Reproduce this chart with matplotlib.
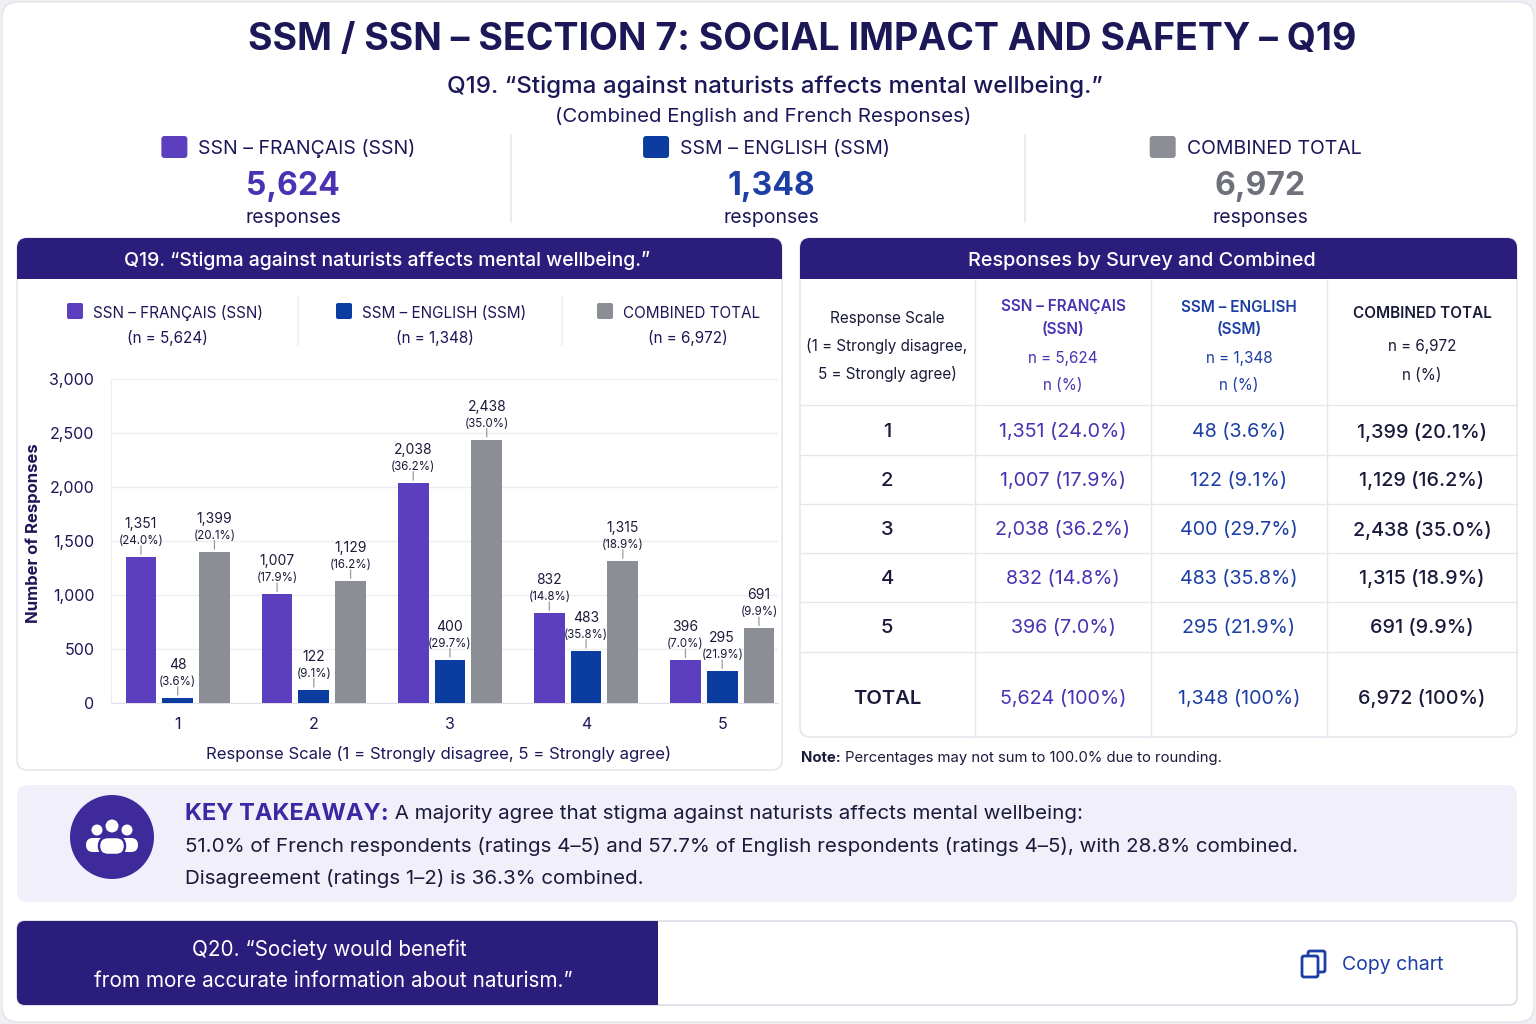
import matplotlib
matplotlib.use("Agg")
import matplotlib.pyplot as plt
from matplotlib.patches import FancyBboxPatch, Rectangle, Circle

plt.rcParams['font.family'] = ['Inter', 'DejaVu Sans']

# ---- data ----
scale = [1, 2, 3, 4, 5]
ssn_counts = [1351, 1007, 2038, 832, 396]
ssn_pct = [24.0, 17.9, 36.2, 14.8, 7.0]
ssm_counts = [48, 122, 400, 483, 295]
ssm_pct = [3.6, 9.1, 29.7, 35.8, 21.9]
comb_counts = [1399, 1129, 2438, 1315, 691]
comb_pct = [20.1, 16.2, 35.0, 18.9, 9.9]
totals = [5624, 1348, 6972]
series_names = ["SSN – FRANÇAIS (SSN)", "SSM – ENGLISH (SSM)", "COMBINED TOTAL"]
yticks = [0, 500, 1000, 1500, 2000, 2500, 3000]

# ---- colours ----
navy = '#1c1757'
indigo = '#2a1d7c'
purple = '#5b3fbe'
purple_txt = '#4a32b3'
blue = '#0a3d9f'
blue_txt = '#1d3fa5'
gray = '#8b8e95'
gray_txt = '#6e7179'
dark = '#1a1a3a'
line_c = '#e6e6ee'

fig = plt.figure(figsize=(15.36, 10.24), dpi=100, facecolor='#eef0f4')
bg = fig.add_axes([0, 0, 1, 1])
bg.set_xlim(0, 1536)
bg.set_ylim(1024, 0)
bg.axis('off')


def rbox(x0, y0, x1, y1, r, fc, ec='none', lw=1, z=1):
    p = FancyBboxPatch((x0, y0), x1 - x0, y1 - y0,
                       boxstyle=f"round,pad=0,rounding_size={r}",
                       fc=fc, ec=ec, lw=lw, zorder=z)
    bg.add_patch(p)
    return p


def txt(x, y, s, size, color=dark, weight='normal', ha='center', **kw):
    # small downward nudge so the visual centre matches the layout
    return bg.text(x, y + 2, s, fontsize=size, color=color, fontweight=weight,
                   ha=ha, va='center', **kw)


renderer = fig.canvas.get_renderer()


def run(x, y, parts):
    for s, kw in parts:
        t = txt(x, y, s, ha='left', **kw)
        x += t.get_window_extent(renderer).width


# outer card
rbox(2, 2, 1534, 1022, 16, 'white', ec='#e2e4ea', lw=1)

# title block
txt(802, 38, "SSM / SSN – SECTION 7: SOCIAL IMPACT AND SAFETY – Q19", 27, navy, 'bold')
txt(775, 85, "Q19. “Stigma against naturists affects mental wellbeing.”", 17.4, navy, 'medium')
txt(763, 115, "(Combined English and French Responses)", 14.7, navy)

# stat columns
stat_x = [290, 768, 1257]
stat_cols = [purple, blue, gray]
stat_txt = [purple_txt, blue_txt, gray_txt]
for cx, name, tot, c, tc in zip(stat_x, series_names, totals, stat_cols, stat_txt):
    t = txt(cx + 17, 147, name, 14, navy)
    w = t.get_window_extent(renderer).width
    rbox(cx + 17 - w / 2 - 37, 136, cx + 17 - w / 2 - 11, 158, 3, c, z=2)
    txt(cx + 3, 184, f"{tot:,}", 23, tc, 'bold')
    txt(cx + 3, 216, "responses", 14, navy)
for dx in [511, 1025]:
    bg.plot([dx, dx], [135, 222], color=line_c, lw=1.2)

# left panel
rbox(17, 238, 782, 770, 10, 'white', ec=line_c, lw=1.2)
rbox(17, 238, 782, 279, 10, indigo, z=2)
bg.add_patch(Rectangle((17, 262), 765, 17, fc=indigo, ec='none', zorder=2))
txt(387, 259, "Q19. “Stigma against naturists affects mental wellbeing.”", 14, 'white', 'medium', zorder=3)

leg_sq = [67, 336, 597]
leg_n = [167, 435, 688]
for sx, nx, name, tot, c in zip(leg_sq, leg_n, series_names, totals, stat_cols):
    rbox(sx, 303, sx + 16, 319, 2, c, z=2)
    txt(sx + 26, 311, name, 11, navy, ha='left')
    txt(nx, 336, f"(n = {tot:,})", 11, navy)
for dx in [298, 562]:
    bg.plot([dx, dx], [297, 345], color='#f0f0f4', lw=1.2)

# chart axes
ax = fig.add_axes([111 / 1536, 1 - 703 / 1024, (778 - 111) / 1536, 324 / 1024])
ax.set_facecolor('none')
bw = 0.226
off = 0.27
ax.set_xlim(1 - 0.49, 5 + 0.41)
ax.set_ylim(0, 3000)
groups = [(ssn_counts, ssn_pct, purple, -off), (ssm_counts, ssm_pct, blue, 0),
          (comb_counts, comb_pct, gray, off)]
for counts, pcts, c, o in groups:
    xs = [s + o for s in scale]
    ax.bar(xs, counts, width=bw, color=c, zorder=3)
    for x, v, p in zip(xs, counts, pcts):
        ax.annotate('', xy=(x, v), xytext=(0, 14), textcoords='offset pixels',
                    arrowprops=dict(arrowstyle='-', color='#9a9aa5', lw=0.9))
        ax.annotate(f"({p:.1f}%)", xy=(x, v), xytext=(0, 16), textcoords='offset pixels',
                    ha='center', va='center', fontsize=8.3, color=dark)
        ax.annotate(f"{v:,}", xy=(x, v), xytext=(0, 33), textcoords='offset pixels',
                    ha='center', va='center', fontsize=10, color=dark)
ax.set_yticks(yticks)
ax.set_yticklabels([f"{v:,}" for v in yticks], fontsize=11.5, color=navy)
ax.set_xticks(scale)
ax.set_xticklabels([str(s) for s in scale], fontsize=11.5, color=navy)
ax.tick_params(length=0, pad=12, axis='y')
ax.tick_params(length=0, pad=10, axis='x')
ax.grid(axis='y', color='#ededf2', lw=1, zorder=0)
for s in ['top', 'right']:
    ax.spines[s].set_visible(False)
ax.spines['left'].set_color('#ededf2')
ax.spines['bottom'].set_color('#e0e0e8')
txt(33, 531, "Number of Responses", 12, navy, 'bold', rotation=90)
txt(439, 752, "Response Scale (1 = Strongly disagree, 5 = Strongly agree)", 12, navy)

# right panel: table
rbox(800, 238, 1517, 737, 10, 'white', ec=line_c, lw=1.2)
rbox(800, 238, 1517, 279, 10, indigo, z=2)
bg.add_patch(Rectangle((800, 262), 717, 17, fc=indigo, ec='none', zorder=2))
txt(1142, 259, "Responses by Survey and Combined", 14.3, 'white', 'medium', zorder=3)

for hy in [405, 455, 504, 553, 602, 652]:
    bg.plot([800, 1517], [hy, hy], color=line_c, lw=1)
for vx in [975, 1151, 1327]:
    bg.plot([vx, vx], [280, 737], color=line_c, lw=1)

col_x = [887, 1063, 1239, 1422]
txt(col_x[0], 316, "Response Scale", 11, dark)
txt(col_x[0], 344, "(1 = Strongly disagree,", 11, dark)
txt(col_x[0], 372, "5 = Strongly agree)", 11, dark)
txt(col_x[1], 305, "SSN – FRANÇAIS", 11, purple_txt, 'semibold')
txt(col_x[1], 327, "(SSN)", 11, purple_txt, 'semibold')
txt(col_x[1], 356, f"n = {totals[0]:,}", 11, purple_txt)
txt(col_x[1], 383, "n (%)", 11, purple_txt)
txt(col_x[2], 305, "SSM – ENGLISH", 11, blue_txt, 'semibold')
txt(col_x[2], 327, "(SSM)", 11, blue_txt, 'semibold')
txt(col_x[2], 356, f"n = {totals[1]:,}", 11, blue_txt)
txt(col_x[2], 383, "n (%)", 11, blue_txt)
txt(col_x[3], 311, "COMBINED TOTAL", 11, dark, 'semibold')
txt(col_x[3], 344, f"n = {totals[2]:,}", 11, dark)
txt(col_x[3], 374, "n (%)", 11, dark)

row_y = [430, 479, 528, 577, 626]
for i, ry in enumerate(row_y):
    txt(col_x[0], ry, str(scale[i]), 14.5, dark, 'medium')
    txt(col_x[1], ry, f"{ssn_counts[i]:,} ({ssn_pct[i]:.1f}%)", 14.2, purple_txt)
    txt(col_x[2], ry, f"{ssm_counts[i]:,} ({ssm_pct[i]:.1f}%)", 14.2, blue_txt)
    txt(col_x[3], ry, f"{comb_counts[i]:,} ({comb_pct[i]:.1f}%)", 14.2, dark, 'medium')
txt(col_x[0], 697, "TOTAL", 14.5, dark, 'semibold')
txt(col_x[1], 697, f"{totals[0]:,} (100%)", 14.2, purple_txt)
txt(col_x[2], 697, f"{totals[1]:,} (100%)", 14.2, blue_txt)
txt(col_x[3], 697, f"{totals[2]:,} (100%)", 14.2, dark, 'medium')

run(801, 756, [("Note:", dict(size=10.7, color=dark, weight='bold')),
               (" Percentages may not sum to 100.0% due to rounding.", dict(size=10.7, color=dark))])

# key takeaway
rbox(17, 785, 1517, 902, 10, '#f1effa')
bg.add_patch(Circle((112, 837), 42, fc='#3f2a9c', ec='none', zorder=2))
for hx, hy, hr in [(97, 830, 5.5), (127, 830, 5.5)]:
    bg.add_patch(Circle((hx, hy), hr, fc='white', ec='none', zorder=3))
rbox(86, 838, 106, 852, 7, 'white', z=3)
rbox(118, 838, 138, 852, 7, 'white', z=3)
bg.add_patch(Circle((112, 826), 7.5, fc='white', ec='#3f2a9c', lw=1.5, zorder=4))
rbox(99, 837, 125, 855, 9, 'white', ec='#3f2a9c', lw=1.8, z=4)

run(185, 812, [("KEY TAKEAWAY:", dict(size=17, color='#3d27a3', weight='bold')),
               (" A majority agree that stigma against naturists affects mental wellbeing:",
                dict(size=14.8, color=dark))])
txt(185, 845, "51.0% of French respondents (ratings 4–5) and 57.7% of English respondents "
    "(ratings 4–5), with 28.8% combined.", 14.8, dark, ha='left')
txt(185, 877, "Disagreement (ratings 1–2) is 36.3% combined.", 14.8, dark, ha='left')

# bottom strip
rbox(17, 921, 1517, 1005, 8, 'white', ec='#dcdde5', lw=1.2)
rbox(17, 921, 658, 1005, 8, indigo, z=2)
bg.add_patch(Rectangle((600, 921), 58, 84, fc=indigo, ec='none', zorder=2))
txt(329, 948, "Q20. “Society would benefit", 14.9, 'white', zorder=3)
txt(333, 979, "from more accurate information about naturism.”", 14.9, 'white', zorder=3)
rbox(1308, 951, 1325, 972, 2, 'white', ec=blue_txt, lw=2, z=3)
rbox(1302, 956, 1318, 977, 2, 'white', ec=blue_txt, lw=2, z=4)
txt(1342, 963, "Copy chart", 14, blue_txt, ha='left')

fig.savefig("out.png", dpi=100, facecolor=fig.get_facecolor())
